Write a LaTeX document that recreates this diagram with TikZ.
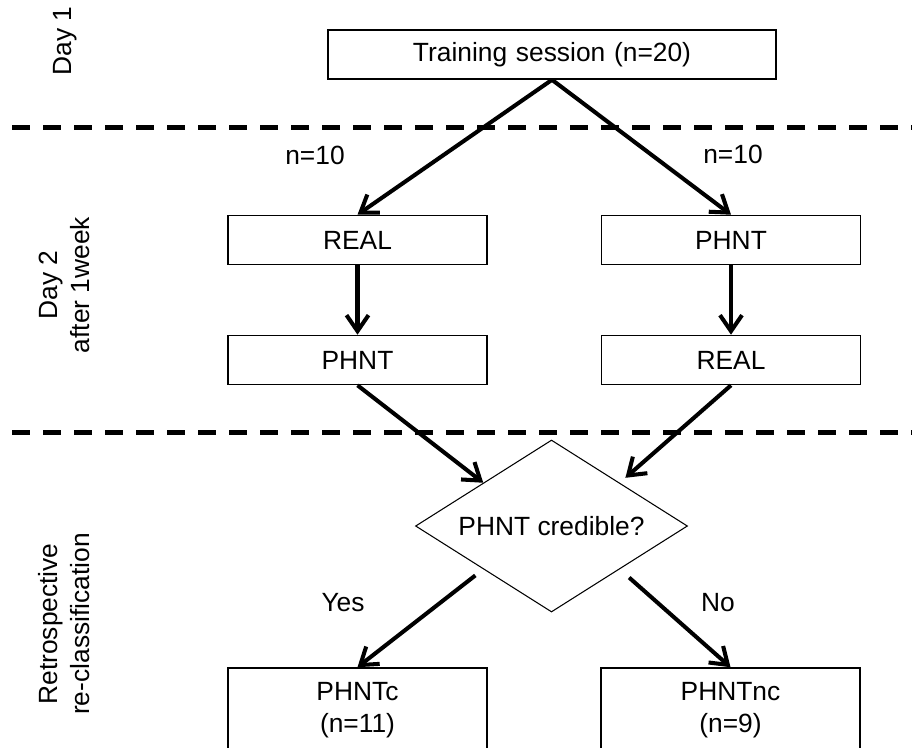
\documentclass[tikz,border=0pt]{standalone}
\usepackage{fontspec}
\setmainfont{Liberation Sans}
\usepackage{tikz}
\usetikzlibrary{arrows.meta, shapes.geometric}
\tikzstyle{block} = [rectangle, draw, line width = 0.9pt, inner sep = 0pt, text width = 5.18cm, text centered, minimum height = 0.98cm]
\tikzstyle{blockWide} = [rectangle, draw, line width = 0.9pt, inner sep = 0pt, text width = 8.96cm, text centered, minimum height = 0.98cm]
\tikzstyle{blockTall} = [rectangle, draw, line width = 0.9pt, inner sep = 0pt, text width = 5.18cm, text centered, minimum height = 1.68cm]
\tikzstyle{decision} = [diamond, draw, line width = 0.6pt, inner sep = 0pt, aspect = 1.6, minimum width = 5.44cm, minimum height = 3.44cm]
\tikzstyle{line} = [line width = 2.3pt, -{Straight Barb[length = 0.32cm, width = 0.44cm]}]
\tikzstyle{dayline} = [line width = 2.85pt, dash pattern = on 0.36cm off 0.26cm]
\tikzstyle{noblock} = [rectangle, draw = none]
\tikzstyle{daylabel} = [rectangle, draw = none, rotate = 90, align = center]

\begin{document}
\begin{tikzpicture}[font = \fontsize{15pt}{18.2pt}\selectfont]
        \useasboundingbox (0,0) rectangle (18.24,-14.94);
        \node(train) [blockWide] at (11.04,-1.09) {Training session (n=20)};
        \node(realA) [block] at (7.15,-4.8) {REAL};
        \node(phntA) [block, right of = realA, node distance = 7.47cm] {PHNT};
        \node(phntB) [block, below of = realA, node distance = 2.4cm] {PHNT};
        \node(realB) [block, below of = phntA, node distance = 2.4cm] {REAL};
        \node(decide) [decision] at (11.03,-10.52) {PHNT credible?};
        \node(phntC) [blockTall] at (7.15,-14.2) {PHNTc\\(n=11)};
        \node(phntNC) [blockTall, right of = phntC, node distance = 7.46cm] {PHNTnc\\(n=9)};
        % group sizes and answers
        \node(nLeft) [noblock] at (6.3,-3.1) {n=10};
        \node(nRight) [noblock] at (14.66,-3.08) {n=10};
        \node(yes) [noblock] at (6.86,-12.06) {Yes};
        \node(no) [noblock] at (14.36,-12.06) {No};
        % phases
        \node(day1) [daylabel] at (1.3,-0.82) {Day 1};
        \node(day2) [daylabel] at (1.28,-5.7) {Day 2\\after 1week};
        \node(retro) [daylabel] at (1.28,-12.48) {Retrospective\\re-classification};
        \draw[dayline] (0.24,-2.54) -- (18.4,-2.54);
        \draw[dayline] (0.24,-8.64) -- (18.4,-8.64);
        \draw[line] (train.south) -- (realA.north);
        \draw[line] (train.south) -- (phntA.north);
        \draw[line] (realA) -- (phntB);
        \draw[line] (phntA) -- (realB);
        \draw[line] (phntB.south) -- (decide.north west);
        \draw[line, shorten >= 0.15cm] (realB.south) -- (decide.north east);
        \draw[line, shorten <= 0.2cm] (decide.south west) -- (phntC.north);
        \draw[line, shorten <= 0.25cm] (decide.south east) -- (phntNC.north);
    \end{tikzpicture}
\end{document}
